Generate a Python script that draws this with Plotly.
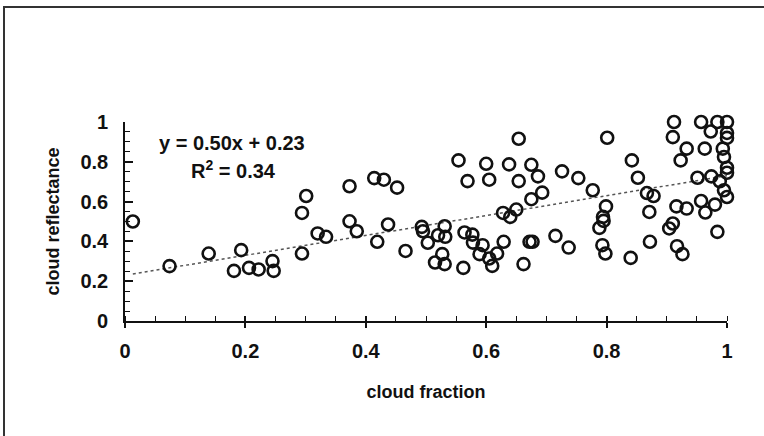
import plotly.graph_objects as go

# cloud fraction (x) and cloud reflectance (y)
cloud_fraction = [
    0.013, 0.074, 0.139, 0.193, 0.181, 0.206, 0.222, 0.245, 0.247, 0.294,
    0.294, 0.301, 0.320, 0.334, 0.373, 0.373, 0.385, 0.414, 0.430, 0.452,
    0.419, 0.437, 0.466, 0.493, 0.495, 0.503, 0.520, 0.531, 0.532, 0.527,
    0.515, 0.531, 0.554, 0.562, 0.569, 0.564, 0.577, 0.578, 0.594, 0.589,
    0.600, 0.605, 0.605, 0.610, 0.618, 0.629, 0.628, 0.640, 0.650, 0.638,
    0.654, 0.654, 0.662, 0.672, 0.677, 0.675, 0.675, 0.686, 0.693, 0.715,
    0.726, 0.737, 0.753, 0.777, 0.788, 0.795, 0.794, 0.799, 0.793, 0.798,
    0.801, 0.842, 0.852, 0.840, 0.867, 0.878, 0.871, 0.872, 0.912, 0.910,
    0.923, 0.933, 0.916, 0.933, 0.910, 0.904, 0.917, 0.926, 0.957, 0.984,
    1.000, 0.973, 0.963, 1.000, 1.000, 0.993, 0.995, 1.000, 1.000, 0.951,
    0.974, 0.988, 0.957, 0.964, 0.980, 0.995, 1.000, 0.984,
]
cloud_reflectance = [
    0.500, 0.276, 0.339, 0.356, 0.252, 0.267, 0.259, 0.301, 0.252, 0.339,
    0.543, 0.628, 0.440, 0.423, 0.677, 0.501, 0.451, 0.718, 0.710, 0.670,
    0.398, 0.485, 0.352, 0.473, 0.451, 0.393, 0.431, 0.476, 0.423, 0.336,
    0.294, 0.286, 0.807, 0.267, 0.703, 0.445, 0.434, 0.394, 0.381, 0.336,
    0.790, 0.710, 0.314, 0.277, 0.339, 0.398, 0.543, 0.523, 0.560, 0.787,
    0.916, 0.703, 0.286, 0.398, 0.398, 0.612, 0.785, 0.727, 0.645, 0.428,
    0.752, 0.369, 0.718, 0.657, 0.468, 0.503, 0.523, 0.576, 0.381, 0.339,
    0.921, 0.807, 0.720, 0.317, 0.643, 0.628, 0.548, 0.398, 1.000, 0.924,
    0.807, 0.866, 0.576, 0.565, 0.490, 0.465, 0.376, 0.336, 1.000, 1.000,
    1.000, 0.952, 0.866, 0.945, 0.920, 0.866, 0.824, 0.770, 0.745, 0.720,
    0.727, 0.702, 0.603, 0.545, 0.585, 0.657, 0.623, 0.448,
]

# linear trendline as printed on the chart
slope = 0.50
intercept = 0.23
r_squared = 0.34

axis_ticks = [0, 0.2, 0.4, 0.6, 0.8, 1]
axis_tick_labels = ["0", "0.2", "0.4", "0.6", "0.8", "1"]

FONT = "Liberation Sans, Arial, sans-serif"
INK = "#111111"

fig = go.Figure()

trend_x = [min(cloud_fraction), max(cloud_fraction)]
trend_y = [slope * v + intercept for v in trend_x]
fig.add_trace(go.Scatter(
    x=trend_x, y=trend_y, mode="lines",
    line=dict(color="#555555", width=1.5, dash="dot"),
    hoverinfo="skip", showlegend=False,
))

fig.add_trace(go.Scatter(
    x=cloud_fraction, y=cloud_reflectance, mode="markers",
    marker=dict(symbol="circle-open", size=12, color=INK,
                line=dict(width=2.6, color=INK)),
    cliponaxis=False, showlegend=False,
))

# helper trace so the overlay axis (inner half of crossing x major ticks) is drawn
fig.add_trace(go.Scatter(x=[None], y=[None], xaxis="x2", yaxis="y",
                         showlegend=False, hoverinfo="skip"))

fig.update_layout(
    width=764, height=436,
    margin=dict(l=125, r=37, t=122, b=115),
    paper_bgcolor="white", plot_bgcolor="white",
    font=dict(family=FONT, size=18, color=INK, weight="bold"),
    xaxis=dict(
        range=[0, 1], tickvals=axis_ticks, ticktext=axis_tick_labels,
        showgrid=False, zeroline=False,
        showline=True, linecolor=INK, linewidth=1.6,
        ticks="outside", ticklen=5, tickwidth=1.6, tickcolor=INK,
        minor=dict(dtick=0.05, ticks="inside", ticklen=5, tickwidth=1.4, tickcolor=INK),
        tickfont=dict(size=20, weight="bold"),
        ticklabelstandoff=6,
        title=dict(text="cloud fraction", font=dict(size=18, weight="bold"), standoff=25),
    ),
    xaxis2=dict(
        overlaying="x", range=[0, 1], tickvals=axis_ticks, showticklabels=False,
        showgrid=False, zeroline=False, showline=False,
        ticks="inside", ticklen=5, tickwidth=1.6, tickcolor=INK, side="bottom",
    ),
    yaxis=dict(
        range=[0, 1], tickvals=axis_ticks, ticktext=axis_tick_labels,
        showgrid=False, zeroline=False,
        showline=True, linecolor=INK, linewidth=1.6,
        ticks="inside", ticklen=8, tickwidth=1.6, tickcolor=INK,
        minor=dict(dtick=0.05, ticks="inside", ticklen=5, tickwidth=1.4, tickcolor=INK),
        tickfont=dict(size=20, weight="bold"),
        ticklabelstandoff=11,
        title=dict(text="cloud reflectance", font=dict(size=18, weight="bold"), standoff=16),
    ),
    annotations=[
        dict(text=f"y = {slope:.2f}x + {intercept:.2f}", xref="paper", yref="paper",
             x=0.178, y=0.894, xanchor="center", yanchor="middle",
             showarrow=False, font=dict(size=20, weight="bold")),
        dict(text=f"R<sup>2</sup> = {r_squared:.2f}", xref="paper", yref="paper",
             x=0.18, y=0.759, xanchor="center", yanchor="middle",
             showarrow=False, font=dict(size=20, weight="bold")),
    ],
    shapes=[
        dict(type="rect", xref="paper", yref="paper",
             x0=-0.201, x1=1.08, y0=-0.65, y1=1.578,
             line=dict(color="#333333", width=2), fillcolor="rgba(0,0,0,0)",
             layer="below"),
    ],
)

fig.write_html("out.html")
